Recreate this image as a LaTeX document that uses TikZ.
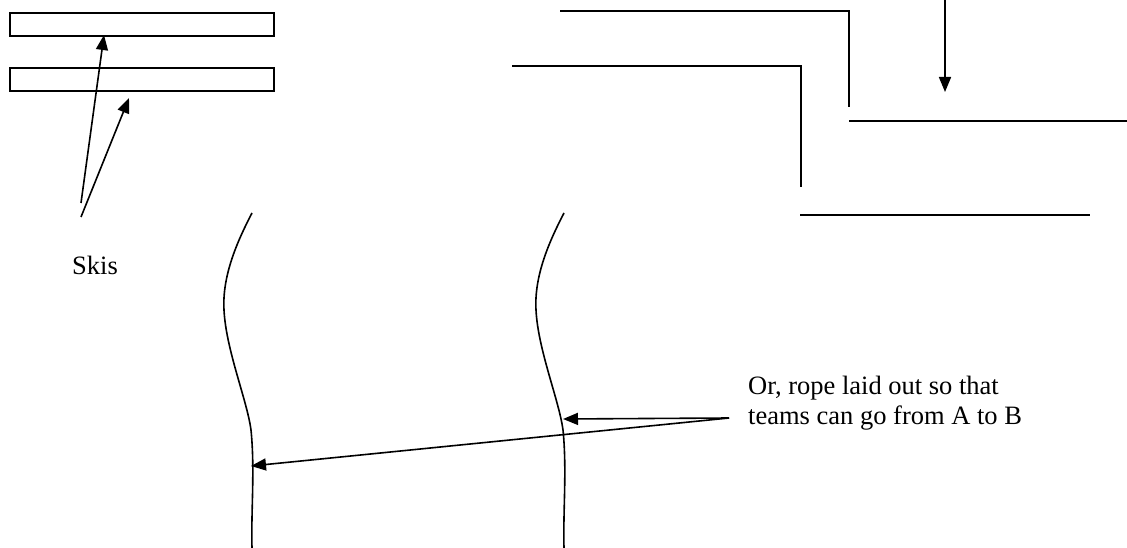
\documentclass[tikz,border=0pt]{standalone}
\usepackage{fontspec}
\setmainfont{Liberation Serif}
\usetikzlibrary{arrows.meta}
\begin{document}
\begin{tikzpicture}[x=1pt,y=-1pt,
  ln/.style={line width=1.6pt, line cap=butt},
  arr/.style={ln, -{Triangle[length=15pt,width=12pt]}},
  ski/.style={draw, line width=1.6pt, rectangle, inner sep=0pt, minimum width=264pt, minimum height=23pt, anchor=north west},
  lbl/.style={font=\fontsize{26.5}{30}\selectfont, inner sep=0pt, align=left}]
\useasboundingbox (0,0) rectangle (1127,548);
% skis
\node[ski] (ski1) at (9,12) {};
\node[ski] (ski2) at (9,67) {};
\node[lbl, anchor=base west] (skis) at (72,274) {Skis};
\coordinate (s1) at (81,203);
\coordinate (s2) at (81,217);
\coordinate (t1) at (104,35);
\coordinate (t2) at (129,98);
\draw[arr] (s1) -- (t1);
\draw[arr] (s2) -- (t2);
% walls
\coordinate (a1) at (560,11);
\coordinate (a2) at (849,11);
\coordinate (a3) at (849,107);
\coordinate (b1) at (512,66);
\coordinate (b2) at (801,66);
\coordinate (b3) at (801,187);
\coordinate (c1) at (849,121);
\coordinate (c2) at (1127,121);
\coordinate (d1) at (800,215);
\coordinate (d2) at (1090,215);
\draw[ln] (a1) -- (a2) -- (a3);
\draw[ln] (b1) -- (b2) -- (b3);
\draw[ln] (c1) -- (c2);
\draw[ln] (d1) -- (d2);
% downward arrow
\coordinate (dn0) at (945,0);
\coordinate (dn1) at (945,92);
\draw[arr] (dn0) -- (dn1);
% ropes
\foreach \dx in {0, 312}{
  \begin{scope}[xshift=\dx pt]
  \draw[ln] (252,213) .. controls (238,240) and (222,275) .. (224,310)
    .. controls (226,350) and (247,400) .. (251,430)
    .. controls (255,470) and (251,510) .. (252,548);
  \end{scope}
}
% label
\node[lbl, anchor=north west] (note) at (748,376) {Or, rope laid out so that\\teams can go from A to B};
\coordinate (tail) at (729,418);
\coordinate (r1) at (563,419);
\coordinate (r2) at (251,466);
\draw[arr] (tail) -- (r1);
\draw[arr] (tail) -- (r2);
\end{tikzpicture}
\end{document}
